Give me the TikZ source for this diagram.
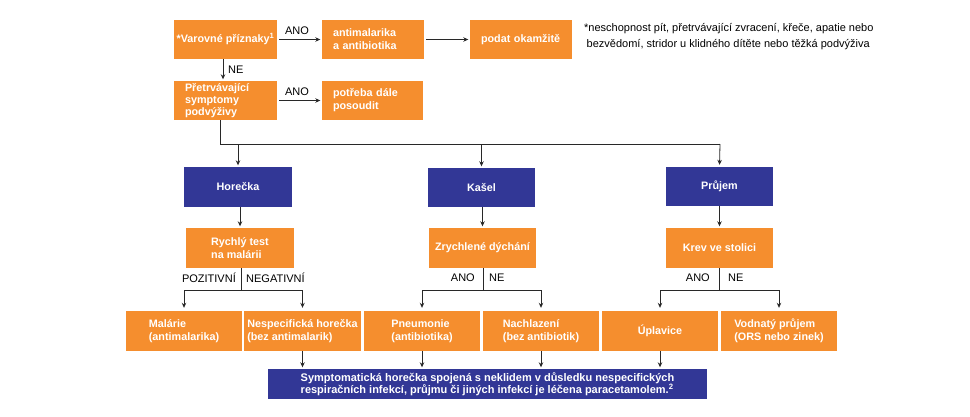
\documentclass[tikz,border=0pt]{standalone}
\usepackage{fontspec}
\setmainfont{Liberation Sans}
\usetikzlibrary{arrows.meta}
\definecolor{orng}{RGB}{245,142,46}
\definecolor{blu}{RGB}{50,55,150}
\definecolor{ln}{RGB}{40,40,40}
\tikzset{
  box/.style={draw=none,minimum height=39pt,inner sep=0pt,text=white,
    font=\fontsize{10.8}{13}\selectfont\bfseries},
  ob/.style={box,fill=orng},
  bb/.style={box,fill=blu},
  lbl/.style={font=\fontsize{11}{12}\selectfont,text=black,inner sep=0pt},
  conn/.style={draw=ln,line width=0.8pt},
  arr/.style={conn,-{Stealth[length=5pt,width=4.5pt]},shorten >=1.5pt}
}
\begin{document}
\begin{tikzpicture}[x=1pt,y=-1pt]
\useasboundingbox (0,0) rectangle (970,416);
% top rows
\node[ob,minimum width=103pt] (var) at (225.5,39.5) {*Varovné příznaky\textsuperscript{1}};
\node[ob,minimum width=102pt,text width=80pt,align=left] (anti) at (373,39.5) {antimalarika\\a antibiotika};
\node[ob,minimum width=102pt,text width=80pt,align=left] (pod) at (521,39.5) {podat okamžitě};
\node[ob,minimum width=103pt,text width=81pt,align=left,font=\fontsize{10.8}{12}\selectfont\bfseries] (pre) at (225.5,100.5) {Přetrvávající\\symptomy\\podvýživy};
\node[ob,minimum width=101pt,text width=79pt,align=left] (pot) at (372.5,100.5) {potřeba dále\\posoudit};
\node[lbl,anchor=north west,align=left,font=\fontsize{11}{16}\selectfont] (fn) at (584,23) {*neschopnost pít, přetrvávající zvracení, křeče, apatie nebo\\\hspace{2.5pt}bezvědomí, stridor u klidného dítěte nebo těžká podvýživa};
% connectors top
\draw[arr,shorten <=2pt] (var) -- (anti);
\node[lbl] (l1) at (297,31) {ANO};
\draw[arr,shorten <=2pt] (anti) -- (pod);
\draw[arr] ([xshift=-2.5pt]var.south) -- ([xshift=-2.5pt]pre.north);
\node[lbl,anchor=west] (l2) at (228,70) {NE};
\draw[arr,shorten <=2pt] (pre) -- (pot);
\node[lbl] (l3) at (297,92) {ANO};
% blue row
\node[bb,minimum width=108pt,minimum height=40pt] (hor) at (238,187) {Horečka};
\node[bb,minimum width=107pt] (kas) at (481.5,187.5) {Kašel};
\node[bb,minimum width=107pt] (pru) at (719.5,186) {Průjem};
\coordinate (bus) at (720,144);
\draw[conn] ([xshift=-5.5pt]pre.south) |- (bus);
\draw[arr] (bus) -- (pru.north);
\draw[arr] (hor.north |- bus) -- (hor.north);
\draw[arr] (kas.north |- bus) -- (kas.north);
% orange middle
\node[ob,minimum width=108pt,minimum height=40pt,align=left] (ryc) at (240,248) {Rychlý test\\na malárii};
\node[ob,minimum width=107pt,minimum height=40pt] (zry) at (482.5,248) {Zrychlené dýchání};
\node[ob,minimum width=107pt,minimum height=40pt] (krev) at (719.5,248) {Krev ve stolici};
\draw[arr] (ryc.north |- hor.south) -- (ryc.north);
\draw[arr] (zry.north |- kas.south) -- (zry.north);
\draw[arr] (krev.north |- pru.south) -- (krev.north);
% bottom row
\node[ob,minimum width=116pt,minimum height=40pt,align=left] (mal) at (184,331) {Malárie\\(antimalarika)};
\node[ob,minimum width=117pt,minimum height=40pt,align=left] (nes) at (302.5,331) {Nespecifická horečka\\(bez antimalarik)};
\node[ob,minimum width=116pt,minimum height=40pt,align=left] (pne) at (422,331) {Pneumonie\\(antibiotika)};
\node[ob,minimum width=116pt,minimum height=40pt,align=left] (nac) at (541,331) {Nachlazení\\(bez antibiotik)};
\node[ob,minimum width=116pt,minimum height=40pt,align=left] (upl) at (660,331) {Úplavice};
\node[ob,minimum width=116pt,minimum height=40pt,align=left] (vod) at (779,331) {Vodnatý průjem\\(ORS nebo zinek)};
% branches
\coordinate (rb) at (241,290);
\draw[conn] (rb |- ryc.south) -- (rb);
\draw[arr,shorten >=3pt] (rb) -| (mal.north);
\draw[arr,shorten >=3pt] (rb) -| (nes.north);
\node[lbl,anchor=east] (p1) at (236,278) {POZITIVNÍ};
\node[lbl,anchor=west] (p2) at (246,278) {NEGATIVNÍ};
\coordinate (kb) at (483,290);
\draw[conn] (kb |- zry.south) -- (kb);
\draw[arr,shorten >=3pt] (kb) -| (pne.north);
\draw[arr,shorten >=3pt] (kb) -| (nac.north);
\node[lbl,anchor=east] (k1) at (475,278) {ANO};
\node[lbl,anchor=west] (k2) at (489,278) {NE};
\coordinate (pb) at (719,290);
\draw[conn] (pb |- krev.south) -- (pb);
\draw[arr,shorten >=3pt] (pb) -| (upl.north);
\draw[arr,shorten >=3pt] (pb) -| (vod.north);
\node[lbl,anchor=east] (j1) at (710,278) {ANO};
\node[lbl,anchor=west] (j2) at (728,278) {NE};
% bottom blue
\node[bb,minimum width=439pt,minimum height=30pt,align=left,font=\fontsize{11}{12.5}\selectfont\bfseries] (sym) at (487.5,384) {Symptomatická horečka spojená s neklidem v důsledku nespecifických\\respiračních infekcí, průjmu či jiných infekcí je léčena paracetamolem.\textsuperscript{2}};
\draw[arr] (nes.south) -- (nes.south |- sym.north);
\draw[arr] (pne.south) -- (pne.south |- sym.north);
\draw[arr] (nac.south) -- (nac.south |- sym.north);
\draw[arr] (upl.south) -- (upl.south |- sym.north);
\end{tikzpicture}
\end{document}
